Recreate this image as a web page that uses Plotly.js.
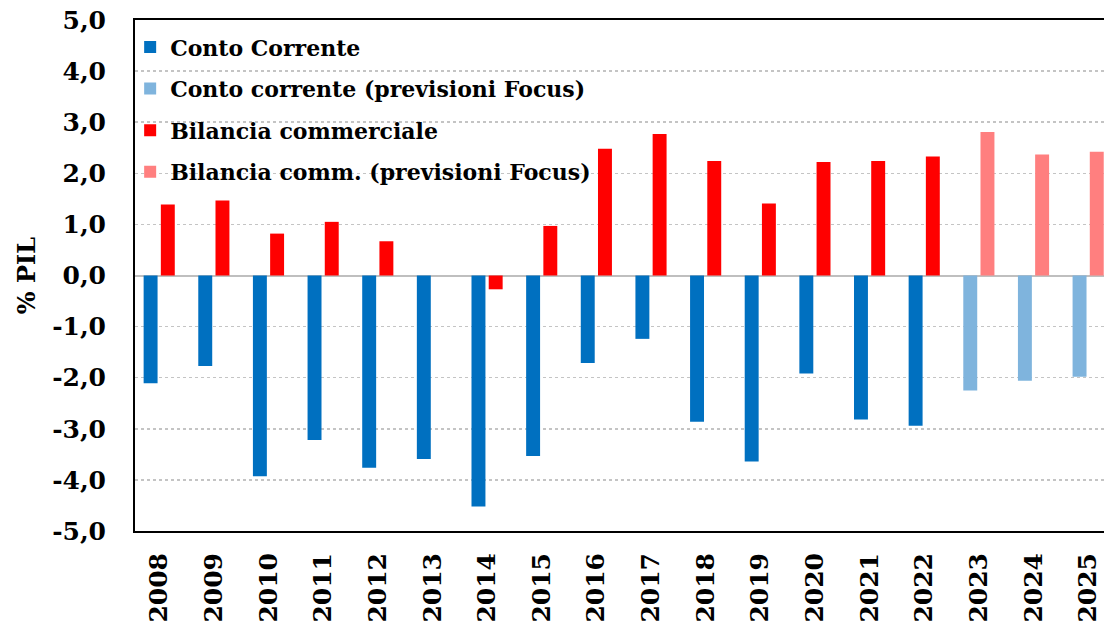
<!DOCTYPE html>
<html>
<head>
<meta charset="utf-8">
<script src="https://cdn.plot.ly/plotly-3.0.1.min.js"></script>
<style>
html,body{margin:0;padding:0;background:#fff;}
#chart{width:1104px;height:629px;}
</style>
</head>
<body>
<div id="chart"></div>
<script>
const years = ['2008','2009','2010','2011','2012','2013','2014','2015','2016','2017','2018','2019','2020','2021','2022','2023','2024','2025'];
const contoCorrente = [-2.11,-1.77,-3.93,-3.22,-3.76,-3.59,-4.52,-3.53,-1.71,-1.24,-2.86,-3.64,-1.92,-2.82,-2.94,null,null,null];
const contoCorrentePrev = [null,null,null,null,null,null,null,null,null,null,null,null,null,null,null,-2.25,-2.06,-1.98];
const bilancia = [1.39,1.47,0.82,1.05,0.67,null,-0.27,0.97,2.48,2.77,2.24,1.41,2.22,2.24,2.33,null,null,null];
const bilanciaPrev = [null,null,null,null,null,null,null,null,null,null,null,null,null,null,null,2.81,2.37,2.42];
const seriesNames = ['Conto Corrente','Conto corrente (previsioni Focus)','Bilancia commerciale','Bilancia comm. (previsioni Focus)'];
const yTickVals = [5,4,3,2,1,0,-1,-2,-3,-4,-5];
const yTickText = ['5,0','4,0','3,0','2,0','1,0','0,0','-1,0','-2,0','-3,0','-4,0','-5,0'];

const serif = 'DejaVu Serif, Liberation Serif, serif';

function bar(name, vals, color, group, lg) {
  return {
    type: 'bar', name: name, x: years, y: vals,
    offsetgroup: group, legendgroup: lg,
    marker: {color: color, line: {width: 0}},
    hoverinfo: 'x+y'
  };
}

const data = [
  bar(seriesNames[0], contoCorrente, '#0070C0', 'cc', 'g1'),
  bar(seriesNames[1], contoCorrentePrev, '#7FB4DD', 'cc', 'g2'),
  bar(seriesNames[2], bilancia, '#FF0000', 'bc', 'g3'),
  bar(seriesNames[3], bilanciaPrev, '#FF7F7F', 'bc', 'g4')
];

const layout = {
  width: 1104, height: 629,
  margin: {l: 135, r: 0, t: 20, b: 98, pad: 0},
  paper_bgcolor: '#fff', plot_bgcolor: '#fff',
  barmode: 'group',
  bargap: 0.37,
  bargroupgap: 0.19,
  showlegend: true,
  legend: {
    x: -0.005, y: 0.988, xanchor: 'left', yanchor: 'top',
    bgcolor: 'rgba(0,0,0,0)',
    font: {family: serif, size: 22, color: '#000', weight: 'bold'},
    traceorder: 'grouped',
    tracegroupgap: 10,
    itemclick: false
  },
  xaxis: {
    type: 'category',
    range: [-0.443, 17.29],
    tickangle: -90,
    tickfont: {family: serif, size: 25, color: '#000', weight: 'bold'},
    showline: true, linecolor: '#000', linewidth: 2, mirror: true,
    showgrid: false, ticks: '', zeroline: false,
    ticklabelstandoff: 10
  },
  yaxis: {
    range: [-5, 5],
    tickvals: yTickVals, ticktext: yTickText,
    tickfont: {family: serif, size: 25, color: '#000', weight: 'bold'},
    showline: true, linecolor: '#000', linewidth: 2, mirror: false,
    showgrid: true, gridcolor: '#C4C4C4', griddash: 'dot', gridwidth: 1.5,
    zeroline: true, zerolinecolor: '#BFBFBF', zerolinewidth: 2,
    ticks: '', ticklabelstandoff: 22,
    title: {text: '% PIL', font: {family: serif, size: 24, color: '#000', weight: 'bold'}, standoff: 10}
  }
};

Plotly.newPlot('chart', data, layout, {displayModeBar: false, staticPlot: true});
</script>
</body>
</html>
